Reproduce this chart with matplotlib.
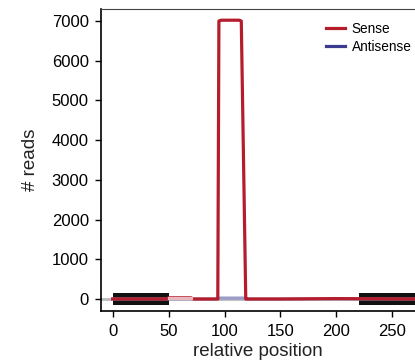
import matplotlib
matplotlib.use("Agg")
import matplotlib.pyplot as plt
import numpy as np

plt.rcParams['font.family'] = ['Liberation Sans', 'DejaVu Sans']

# sense read counts at breakpoints along the relative position
sense_pos = [0, 48, 50, 70, 72, 93, 94, 95, 97, 113, 115, 119, 121, 150, 200, 270]
sense_val = [0, 0, 30, 30, 0, 0, 0, 7000, 7020, 7020, 7000, 0, 0, 0, 10, 0]

# antisense read counts
anti_pos = [0, 94, 95, 119, 120, 270]
anti_val = [0, 0, 25, 25, 0, 0]

# annotated regions (black boxes)
regions = [(0, 50), (220, 300)]

yticks = [0, 1000, 2000, 3000, 4000, 5000, 6000, 7000]
xticks = [0, 50, 100, 150, 200, 250]

sense_col = '#B51D2C'
anti_col = '#3C3A8E'

fig = plt.figure(figsize=(4.15, 3.63), dpi=100)
ax = fig.add_axes([0.2434, 0.1433, 0.7566, 0.8319])

ax.axhline(0, color='#BBBBBB', lw=2, zorder=1)
for a, b in regions:
    ax.fill_between([a, b], -145, 145, color='#111111', lw=0, zorder=2)

ax.fill_between(anti_pos, 0, anti_val, color='#9C9CC8', lw=0, zorder=3)
ax.plot(anti_pos, anti_val, color='#9C9CC8', lw=2.2, zorder=3)
ax.plot(sense_pos, sense_val, color=sense_col, lw=2.3, zorder=4,
        solid_joinstyle='round')
# faint part of the sense trace just after the first region
ax.plot(sense_pos[2:4], sense_val[2:4], color='#E8B8BC', lw=2.3, zorder=5)

# legend handles
ax.plot([], [], color=sense_col, lw=2.3, label='Sense')
ax.plot([], [], color=anti_col, lw=2.3, label='Antisense')
handles, labels = ax.get_legend_handles_labels()
ax.legend(handles[-2:], labels[-2:], loc='upper left', frameon=False,
          fontsize=9.8, handlelength=1.4, handletextpad=0.5,
          labelspacing=0.3, bbox_to_anchor=(0.698, 0.975), borderaxespad=0)

ax.set_xlim(-10.4, 270.3)
ax.set_ylim(-302, 7302)
ax.set_xticks(xticks)
ax.set_yticks(yticks)
ax.tick_params(direction='out', length=4.3, width=1, labelsize=12)
ax.tick_params(axis='x', pad=5)
ax.tick_params(axis='y', pad=4.5)
ax.spines['right'].set_visible(False)
ax.spines['top'].set_color('#444444')
for s in ['left', 'bottom']:
    ax.spines[s].set_linewidth(1.2)

ax.set_xlabel('relative position', fontsize=13.5, labelpad=3, color='#222222')
ax.set_ylabel('# reads', fontsize=13.5, labelpad=9, color='#222222')

fig.savefig('out.png', dpi=100)
